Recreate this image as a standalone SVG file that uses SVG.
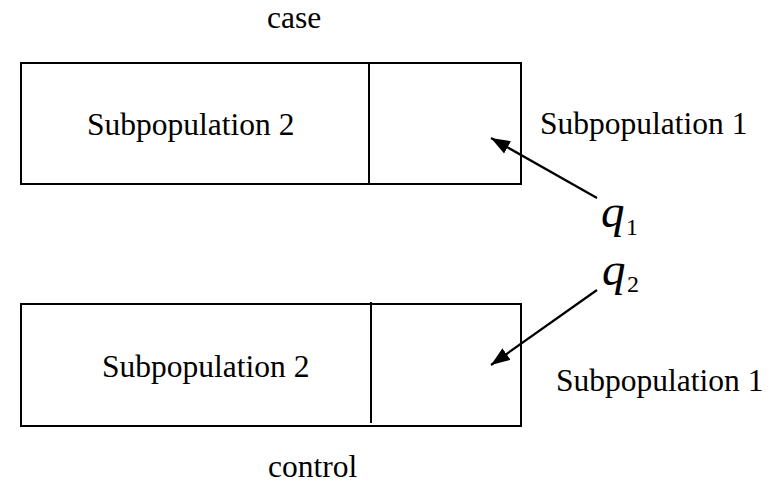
<svg xmlns="http://www.w3.org/2000/svg" width="773" height="485" viewBox="0 0 773 485">
<style>
.box{fill:none;stroke:#000;stroke-width:2}
.c{stroke:#000;stroke-width:2.2;fill:none;marker-end:url(#ah)}
</style>
<defs>
<marker id="ah" markerUnits="userSpaceOnUse" markerWidth="20" markerHeight="16" viewBox="0 0 20 16" refX="19" refY="8" orient="auto">
<path d="M0,1 L19,8 L0,15 z" fill="#000"/>
</marker>
</defs>
<rect width="773" height="485" fill="#fff"/>
<g font-family="'Liberation Serif', serif" fill="#000">
<g id="case-label"><text font-size="31.5" x="267" y="28">case</text></g>
<g id="case-box">
<rect class="box" x="21" y="63" width="500" height="121"/>
<line class="box" x1="369" y1="63" x2="369" y2="184"/>
<text font-size="31.5" x="87" y="135">Subpopulation 2</text>
</g>
<g id="case-sub1"><text font-size="31.5" x="540" y="134">Subpopulation 1</text></g>
<g id="q1"><text x="601" y="227"><tspan font-size="47" font-style="italic">q</tspan><tspan font-size="24" x="626" y="235">1</tspan></text></g>
<g id="q2"><text x="602" y="285"><tspan font-size="47" font-style="italic">q</tspan><tspan font-size="24" x="627" y="292">2</tspan></text></g>
<g id="control-box">
<rect class="box" x="21" y="304" width="500" height="122"/>
<line class="box" x1="371" y1="302" x2="371" y2="423"/>
<text font-size="31.5" x="102" y="377">Subpopulation 2</text>
</g>
<g id="control-sub1"><text font-size="31.5" x="556" y="391">Subpopulation 1</text></g>
<g id="control-label"><text font-size="31.5" x="268" y="477">control</text></g>
</g>
<g id="connectors">
<line class="c" x1="597" y1="198" x2="491" y2="138"/>
<line class="c" x1="597" y1="290" x2="491" y2="365"/>
</g>
</svg>
